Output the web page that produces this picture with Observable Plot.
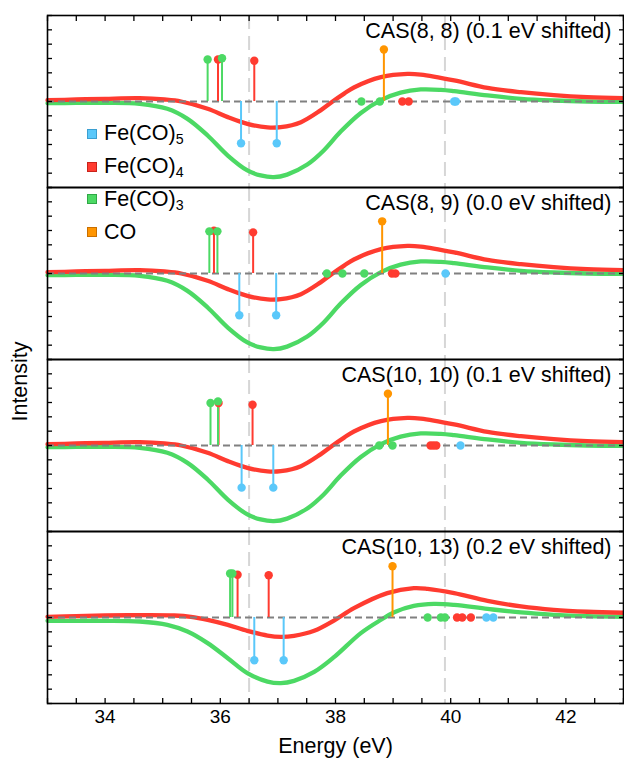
<!DOCTYPE html>
<html>
<head>
<meta charset="utf-8">
<script src="https://cdn.jsdelivr.net/npm/d3@7"></script>
<script src="https://cdn.jsdelivr.net/npm/@observablehq/plot@0.6"></script>
<style>
  body { margin: 0; background: #fff; font-family: "Liberation Sans", Arial, sans-serif; }
  #wrap { position: relative; width: 624px; height: 759px; }
  #legend { position: absolute; left: 86px; top: 117.6px; font-size: 21.5px; color: #000; }
  #legend .row { height: 32.7px; display: flex; align-items: center; white-space: nowrap; }
  #legend .sw { width: 10px; height: 10px; box-sizing: border-box; border: 1px solid; margin-right: 7px; margin-left: 1px; }
  #legend sub { font-size: 0.66em; vertical-align: -0.28em; line-height: 0; }
</style>
</head>
<body>
<div id="wrap"></div>
<script>
// ---------- data ----------
const panelTitles = [
  "CAS(8, 8) (0.1 eV shifted)",
  "CAS(8, 9) (0.0 eV shifted)",
  "CAS(10, 10) (0.1 eV shifted)",
  "CAS(10, 13) (0.2 eV shifted)"
];
const speciesNames = ["Fe(CO)5", "Fe(CO)4", "Fe(CO)3", "CO"];
const speciesSubs = ["5", "4", "3", ""];
const speciesColors = ["#5ac8fa", "#ff3b30", "#4cd964", "#ff9500"];
const speciesBorders = ["#3b9fd1", "#c9231b", "#2fa846", "#c96f00"];
const speciesDrawOrder = ["Fe(CO)4", "Fe(CO)3", "Fe(CO)5", "CO"];

const xTickValues = [33, 33.5, 34, 34.5, 35, 35.5, 36, 36.5, 37, 37.5, 38, 38.5, 39, 39.5, 40, 40.5, 41, 41.5, 42, 42.5, 43];
const xLabelValues = [34, 36, 38, 40, 42];
const yTickValues = [-6, -5, -4, -3, -2, -1, 0, 1, 2, 3, 4, 5, 6];
const guideEnergies = [36.5, 39.9];

// curves shared by panels 1-3 : [energy, intensity]
const greenCurveA = [[33.0,-0.12],[33.5,-0.10],[34.0,-0.10],[34.6,-0.16],[35.08,-0.51],[35.43,-1.21],[35.78,-2.37],[36.13,-3.77],[36.47,-4.81],[36.70,-5.16],[36.93,-5.28],[37.16,-5.10],[37.51,-4.40],[37.80,-3.40],[38.09,-2.10],[38.44,-0.80],[38.79,0.10],[39.13,0.62],[39.48,0.84],[39.83,0.81],[40.06,0.72],[40.64,0.42],[41.22,0.19],[41.79,0.07],[42.37,0.0],[43.0,-0.03]];
const redCurveA = [[33.0,0.09],[33.5,0.14],[34.0,0.19],[34.6,0.23],[35.03,0.14],[35.32,0.0],[35.78,-0.51],[36.13,-1.09],[36.47,-1.56],[36.82,-1.81],[37.05,-1.79],[37.40,-1.44],[37.74,-0.62],[37.95,0.0],[38.15,0.55],[38.32,0.98],[38.79,1.70],[39.25,1.93],[39.48,1.88],[40.06,1.47],[40.64,0.95],[41.22,0.65],[41.79,0.44],[42.37,0.30],[43.0,0.23]];
// curves of panel 4
const greenCurveB = [[33.0,-0.23],[33.5,-0.23],[34.0,-0.23],[34.6,-0.28],[35.08,-0.51],[35.43,-0.98],[35.78,-1.79],[36.13,-2.84],[36.47,-3.88],[36.82,-4.47],[37.05,-4.58],[37.28,-4.42],[37.63,-3.80],[37.98,-2.75],[38.44,-1.09],[38.79,-0.16],[39.02,0.37],[39.36,0.81],[39.71,0.95],[40.06,0.88],[40.64,0.60],[41.22,0.35],[41.79,0.19],[42.37,0.09],[43.0,0.05]];
const redCurveB = [[33.0,0.05],[33.5,0.09],[34.0,0.14],[34.6,0.16],[35.2,0.14],[35.49,0.05],[35.78,-0.16],[36.13,-0.51],[36.47,-0.93],[36.82,-1.26],[37.05,-1.35],[37.28,-1.28],[37.63,-0.93],[37.98,-0.20],[38.32,0.65],[38.90,1.70],[39.36,2.05],[39.60,2.0],[40.06,1.70],[40.64,1.16],[41.22,0.77],[41.79,0.53],[42.37,0.40],[43.0,0.33]];

// transitions per panel : [species, energy, intensity]
const stemsPanel1 = [["Fe(CO)3",35.78,2.93],["Fe(CO)4",35.96,2.93],["Fe(CO)3",36.03,3.02],["Fe(CO)4",36.59,2.84],["CO",38.84,3.63],["Fe(CO)5",36.36,-2.91],["Fe(CO)5",36.98,-2.91],["Fe(CO)3",38.45,0],["Fe(CO)3",38.77,0],["Fe(CO)4",39.16,0],["Fe(CO)4",39.27,0],["Fe(CO)5",40.06,0],["Fe(CO)5",40.09,0]];
const stemsPanel2 = [["Fe(CO)3",35.81,2.94],["Fe(CO)4",35.89,2.98],["Fe(CO)3",35.95,2.94],["Fe(CO)4",36.57,2.87],["CO",38.81,3.64],["Fe(CO)5",36.33,-2.91],["Fe(CO)5",36.97,-2.91],["Fe(CO)3",37.85,0],["Fe(CO)3",38.12,0],["Fe(CO)3",38.50,0],["Fe(CO)4",38.98,0],["Fe(CO)4",39.04,0],["Fe(CO)5",39.91,0]];
const stemsPanel3 = [["Fe(CO)3",35.83,2.96],["Fe(CO)4",35.97,2.96],["Fe(CO)3",35.96,3.08],["Fe(CO)4",36.56,2.84],["CO",38.91,3.61],["Fe(CO)5",36.37,-2.94],["Fe(CO)5",36.92,-2.94],["Fe(CO)3",38.76,0],["Fe(CO)3",38.99,0],["Fe(CO)4",39.65,0],["Fe(CO)4",39.70,0],["Fe(CO)4",39.75,0],["Fe(CO)5",40.17,0]];
const stemsPanel4 = [["Fe(CO)3",36.17,3.07],["Fe(CO)3",36.21,3.07],["Fe(CO)4",36.30,2.98],["Fe(CO)4",36.84,2.95],["CO",38.99,3.58],["Fe(CO)5",36.59,-2.98],["Fe(CO)5",37.10,-2.98],["Fe(CO)3",39.60,0],["Fe(CO)3",39.83,0],["Fe(CO)3",39.90,0],["Fe(CO)4",40.11,0],["Fe(CO)4",40.20,0],["Fe(CO)4",40.35,0],["Fe(CO)5",40.62,0],["Fe(CO)5",40.74,0]];

// ---------- tables ----------
const colorOf = Object.fromEntries(speciesNames.map((s, i) => [s, speciesColors[i]]));
const greenColor = colorOf["Fe(CO)3"], redColor = colorOf["Fe(CO)4"];
const curveSets = [
  [greenCurveA, redCurveA], [greenCurveA, redCurveA], [greenCurveA, redCurveA], [greenCurveB, redCurveB]
];
const greenRows = [], redRows = [];
curveSets.forEach(([g, r], panel) => {
  g.forEach(([e, v]) => greenRows.push({panel, e, v}));
  r.forEach(([e, v]) => redRows.push({panel, e, v}));
});
const stemRows = [];
[stemsPanel1, stemsPanel2, stemsPanel3, stemsPanel4].forEach((list, panel) =>
  list.forEach(([s, e, v]) => stemRows.push({panel, species: s, e, v, color: colorOf[s]}))
);
stemRows.sort((a, b) => speciesDrawOrder.indexOf(a.species) - speciesDrawOrder.indexOf(b.species));
const titleRows = panelTitles.map((t, panel) => ({panel, t}));

// ---------- plot ----------
const chart = Plot.plot({
  width: 624,
  height: 759,
  marginTop: 14,
  marginBottom: 55,
  marginLeft: 47,
  marginRight: 1,
  style: {fontFamily: "'Liberation Sans', Arial, sans-serif", fontSize: "19px", background: "white", color: "black", overflow: "visible"},
  x: {domain: [33, 43]},
  y: {domain: [-6, 6]},
  fy: {domain: [0, 1, 2, 3], padding: 0, axis: null},
  color: {type: "identity"},
  marks: [
    Plot.ruleX(guideEnergies, {stroke: "#d6d6d6", strokeWidth: 2, strokeDasharray: "14,7"}),
    Plot.line(greenRows, {x: "e", y: "v", fy: "panel", stroke: greenColor, strokeWidth: 4.3, curve: "catmull-rom"}),
    Plot.line(redRows, {x: "e", y: "v", fy: "panel", stroke: redColor, strokeWidth: 4.3, curve: "catmull-rom"}),
    Plot.ruleY([0], {stroke: "#808080", strokeWidth: 2, strokeDasharray: "7,4"}),
    Plot.ruleX(stemRows.filter(d => d.v !== 0), {x: "e", y1: 0, y2: "v", fy: "panel", stroke: "color", strokeWidth: 2}),
    Plot.dot(stemRows, {x: "e", y: "v", fy: "panel", fill: "color", r: 4.2}),
    Plot.frame({stroke: "black", strokeWidth: 1.6}),
    Plot.axisY(yTickValues, {anchor: "left", tickSize: 5, dx: 5, fill: "none", label: null, facetAnchor: "left", strokeWidth: 1.3}),
    Plot.axisY(yTickValues, {anchor: "right", tickSize: 5, dx: -5, fill: "none", label: null, facetAnchor: "right", strokeWidth: 1.3}),
    Plot.axisX(xTickValues, {anchor: "top", tickSize: 5, dy: 5, fill: "none", label: null, facetAnchor: "top", strokeWidth: 1.3}),
    Plot.axisX(xTickValues, {anchor: "bottom", tickSize: 5, dy: -5, fill: "none", label: null, facetAnchor: "bottom", strokeWidth: 1.3}),
    Plot.axisX(xLabelValues, {anchor: "bottom", tickSize: 0, tickPadding: 6, fontSize: 19, label: null, facetAnchor: "bottom"}),
    Plot.text(titleRows, {fy: "panel", text: "t", frameAnchor: "top-right", lineAnchor: "top", dx: -12, dy: 7, fontSize: 21.5, fill: "black"}),
    Plot.text([{panel: 3, t: "Energy (eV)"}], {fy: "panel", text: "t", frameAnchor: "bottom", lineAnchor: "middle", dy: 43, fontSize: 21.5, fill: "black"}),
    Plot.text([{panel: 2, t: "Intensity"}], {fy: "panel", text: "t", frameAnchor: "top-left", textAnchor: "middle", lineAnchor: "middle", dx: -27, dy: 22, rotate: -90, fontSize: 21.5, fill: "black"})
  ]
});

const wrap = document.getElementById("wrap");
wrap.appendChild(chart);

// legend overlay
const legend = document.createElement("div");
legend.id = "legend";
speciesNames.forEach((s, i) => {
  const row = document.createElement("div");
  row.className = "row";
  const sw = document.createElement("span");
  sw.className = "sw";
  sw.style.background = speciesColors[i];
  sw.style.borderColor = speciesBorders[i];
  row.appendChild(sw);
  const label = document.createElement("span");
  const base = speciesSubs[i] ? s.slice(0, -1) : s;
  label.appendChild(document.createTextNode(base));
  if (speciesSubs[i]) {
    const sub = document.createElement("sub");
    sub.textContent = speciesSubs[i];
    label.appendChild(sub);
  }
  row.appendChild(label);
  legend.appendChild(row);
});
wrap.appendChild(legend);
</script>
</body>
</html>
